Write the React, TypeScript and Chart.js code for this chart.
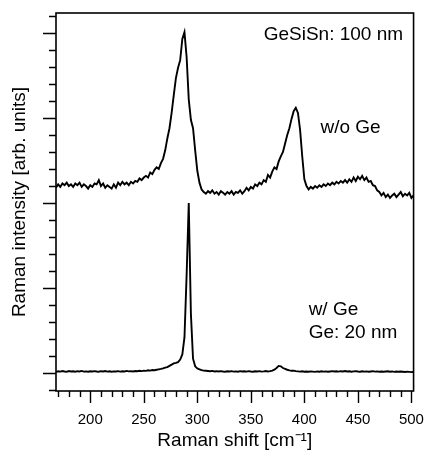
import React, { useEffect, useRef } from "react";
import { Chart, registerables } from "chart.js";

Chart.register(...registerables);

// Raman shift (cm^-1)
const ramanShift = [
  168, 170, 172, 174, 176, 178, 180, 182, 184, 186,
  188, 190, 192, 194, 196, 198, 200, 202, 204, 206,
  208, 210, 212, 214, 216, 218, 220, 222, 224, 226,
  228, 230, 232, 234, 236, 238, 240, 242, 244, 246,
  248, 250, 252, 254, 256, 258, 260, 262, 264, 266,
  268, 270, 272, 274, 276, 278, 280, 282, 284, 286,
  288, 290, 292, 294, 296, 298, 300, 302, 304, 306,
  308, 310, 312, 314, 316, 318, 320, 322, 324, 326,
  328, 330, 332, 334, 336, 338, 340, 342, 344, 346,
  348, 350, 352, 354, 356, 358, 360, 362, 364, 366,
  368, 370, 372, 374, 376, 378, 380, 382, 384, 386,
  388, 390, 392, 394, 396, 398, 400, 402, 404, 406,
  408, 410, 412, 414, 416, 418, 420, 422, 424, 426,
  428, 430, 432, 434, 436, 438, 440, 442, 444, 446,
  448, 450, 452, 454, 456, 458, 460, 462, 464, 466,
  468, 470, 472, 474, 476, 478, 480, 482, 484, 486,
  488, 490, 492, 494, 496, 498, 500, 502,
];

// GeSiSn 100 nm without Ge buffer (offset trace)
const withoutGe = [
  2.18, 2.22, 2.19, 2.23, 2.21, 2.24, 2.20, 2.22, 2.19, 2.23,
  2.21, 2.24, 2.19, 2.22, 2.20, 2.17, 2.21, 2.19, 2.23, 2.22,
  2.27, 2.20, 2.23, 2.18, 2.21, 2.19, 2.17, 2.22, 2.18, 2.24,
  2.21, 2.25, 2.22, 2.24, 2.21, 2.25, 2.23, 2.26, 2.25, 2.29,
  2.27, 2.30, 2.32, 2.30, 2.36, 2.34, 2.39, 2.42, 2.40, 2.47,
  2.52, 2.62, 2.76, 2.88, 3.06, 3.27, 3.47, 3.59, 3.68, 3.93,
  4.01, 3.72, 3.22, 2.98, 2.88, 2.62, 2.38, 2.24, 2.16, 2.13,
  2.11, 2.14, 2.12, 2.15, 2.11, 2.13, 2.10, 2.14, 2.12, 2.10,
  2.13, 2.11, 2.14, 2.10, 2.13, 2.12, 2.15, 2.11, 2.14, 2.18,
  2.15, 2.19, 2.17, 2.22, 2.20, 2.24, 2.22, 2.27, 2.25, 2.33,
  2.30, 2.37, 2.42, 2.40, 2.49, 2.55, 2.60, 2.70, 2.80, 2.88,
  2.99, 3.08, 3.12, 3.06, 2.86, 2.55, 2.28, 2.20, 2.16, 2.19,
  2.17, 2.20, 2.18, 2.21, 2.19, 2.22, 2.20, 2.23, 2.21, 2.24,
  2.22, 2.25, 2.23, 2.26, 2.24, 2.27, 2.24, 2.28, 2.25, 2.30,
  2.26, 2.31, 2.28, 2.32, 2.27, 2.30, 2.25, 2.26, 2.21, 2.20,
  2.15, 2.13, 2.09, 2.12, 2.07, 2.10, 2.06, 2.09, 2.11, 2.07,
  2.10, 2.13, 2.08, 2.11, 2.09, 2.12, 2.06, 2.09,
];

// GeSiSn 100 nm with 20 nm Ge buffer
const withGe = [
  0.015, 0.022, 0.018, 0.025, 0.02, 0.016, 0.024, 0.019, 0.022, 0.017,
  0.023, 0.02, 0.026, 0.018, 0.021, 0.016, 0.022, 0.019, 0.024, 0.02,
  0.017, 0.023, 0.02, 0.025, 0.018, 0.022, 0.016, 0.021, 0.019, 0.024,
  0.018, 0.022, 0.02, 0.026, 0.021, 0.024, 0.019, 0.025, 0.022, 0.028,
  0.024, 0.03, 0.027, 0.033, 0.03, 0.036, 0.034, 0.04, 0.045, 0.05,
  0.056, 0.065, 0.07, 0.085, 0.1, 0.115, 0.12, 0.13, 0.16, 0.22,
  0.42, 1.15, 2.0, 0.7, 0.17, 0.08, 0.055, 0.045, 0.035, 0.03,
  0.028, 0.025, 0.022, 0.026, 0.02, 0.023, 0.019, 0.024, 0.02, 0.017,
  0.022, 0.019, 0.024, 0.018, 0.021, 0.017, 0.023, 0.019, 0.022, 0.018,
  0.024, 0.02, 0.017, 0.022, 0.019, 0.023, 0.018, 0.021, 0.025, 0.02,
  0.024, 0.03, 0.04, 0.06, 0.085, 0.08, 0.06, 0.05, 0.04, 0.032,
  0.028, 0.03, 0.024, 0.021, 0.018, 0.022, 0.017, 0.02, 0.016, 0.021,
  0.018, 0.015, 0.02, 0.017, 0.022, 0.018, 0.021, 0.016, 0.02, 0.024,
  0.019, 0.022, 0.018, 0.023, 0.02, 0.025, 0.019, 0.022, 0.017, 0.021,
  0.024, 0.02, 0.017, 0.022, 0.018, 0.021, 0.016, 0.02, 0.023, 0.018,
  0.021, 0.017, 0.02, 0.016, 0.019, 0.022, 0.017, 0.02, 0.015, 0.019,
  0.016, 0.02, 0.017, 0.014, 0.018, 0.015, 0.012, 0.016,
];

const xTickLabels = [200, 250, 300, 350, 400, 450, 500];
const xMinorTicks = [
  170, 180, 190, 200, 210, 220, 230, 240, 250, 260, 270, 280, 290, 300,
  310, 320, 330, 340, 350, 360, 370, 380, 390, 400, 410, 420, 430, 440,
  450, 460, 470, 480, 490, 500,
];
const yTicks = [-0.2, 0, 0.2, 0.4, 0.6, 0.8, 1, 1.2, 1.4, 1.6, 1.8, 2, 2.2, 2.4, 2.6, 2.8, 3, 3.2, 3.4, 3.6, 3.8, 4, 4.2];
const yMajorTicks = [0, 1, 2, 3, 4];

const annotationTexts = ["GeSiSn: 100 nm", "w/o Ge", "w/ Ge", "Ge: 20 nm"];
const annotationAnchors = [
  { x: 362, y: 3.98 },
  { x: 415, y: 2.88 },
  { x: 404, y: 0.74 },
  { x: 404, y: 0.48 },
];

const FONT = "'Liberation Sans', Arial, Helvetica, sans-serif";

const framePlugin = {
  id: "frameTicks",
  afterDraw(chart: any) {
    const { ctx, chartArea, scales } = chart;
    const xs = scales.x;
    const ys = scales.y;
    ctx.save();
    ctx.strokeStyle = "#000";
    ctx.lineWidth = 1.6;
    ctx.strokeRect(chartArea.left, chartArea.top, chartArea.right - chartArea.left, chartArea.bottom - chartArea.top);
    ctx.beginPath();
    ctx.lineWidth = 1.4;
    for (const v of xMinorTicks) {
      const px = Math.round(xs.getPixelForValue(v)) + 0.5;
      const len = xTickLabels.includes(v) ? 12 : 6;
      ctx.moveTo(px, chartArea.bottom);
      ctx.lineTo(px, chartArea.bottom + len);
    }
    for (const v of yTicks) {
      const py = Math.round(ys.getPixelForValue(v)) + 0.5;
      const len = yMajorTicks.some((m) => Math.abs(m - v) < 1e-6) ? 13 : 7;
      ctx.moveTo(chartArea.left, py);
      ctx.lineTo(chartArea.left - len, py);
    }
    ctx.stroke();
    ctx.fillStyle = "#000";
    ctx.font = `19px ${FONT}`;
    ctx.textBaseline = "middle";
    ctx.textAlign = "left";
    annotationTexts.forEach((t, i) => {
      const a = annotationAnchors[i];
      ctx.fillText(t, xs.getPixelForValue(a.x), ys.getPixelForValue(a.y));
    });
    ctx.restore();
  },
};

export default function App() {
  const canvasRef = useRef<HTMLCanvasElement | null>(null);

  useEffect(() => {
    if (!canvasRef.current) return;
    const chart = new Chart(canvasRef.current, {
      type: "line",
      data: {
        datasets: [
          {
            label: "w/o Ge",
            data: ramanShift.map((x, i) => ({ x, y: withoutGe[i] })),
            borderColor: "#000",
            borderWidth: 1.9,
            pointRadius: 0,
            tension: 0,
            fill: false,
          },
          {
            label: "w/ Ge",
            data: ramanShift.map((x, i) => ({ x, y: withGe[i] })),
            borderColor: "#000",
            borderWidth: 1.9,
            pointRadius: 0,
            tension: 0,
            fill: false,
          },
        ],
      },
      options: {
        animation: false,
        responsive: false,
        maintainAspectRatio: false,
        layout: { padding: { top: 13, right: 10, left: 0, bottom: 0 } },
        plugins: { legend: { display: false }, tooltip: { enabled: false } },
        scales: {
          x: {
            type: "linear",
            min: 168,
            max: 502,
            grid: { display: false, drawTicks: false },
            border: { display: false },
            afterBuildTicks: (scale: any) => {
              scale.ticks = xTickLabels.map((v) => ({ value: v }));
            },
            afterFit: (scale: any) => {
              scale.height = 68;
            },
            ticks: {
              autoSkip: false,
              maxRotation: 0,
              padding: 20,
              color: "#000",
              font: { family: FONT, size: 15 },
              callback: (v: any) => String(v),
            },
            title: {
              display: true,
              text: "Raman shift [cm⁻¹]",
              color: "#000",
              font: { family: FONT, size: 19 },
              padding: { top: 0, bottom: 7 },
            },
          },
          y: {
            type: "linear",
            min: -0.21,
            max: 4.235,
            grid: { display: false, drawTicks: false },
            border: { display: false },
            ticks: { display: false },
            afterFit: (scale: any) => {
              scale.width = 56;
            },
            title: {
              display: true,
              text: "Raman intensity [arb. units]",
              color: "#000",
              font: { family: FONT, size: 19 },
              padding: { top: 8, bottom: 0 },
            },
          },
        },
      },
      plugins: [framePlugin],
    });
    return () => chart.destroy();
  }, []);

  return (
    <div style={{ position: "fixed", left: 0, top: 0, width: 444, height: 459, background: "#fff" }}>
      <canvas ref={canvasRef} width={444} height={459} style={{ width: 444, height: 459 }} />
    </div>
  );
}
